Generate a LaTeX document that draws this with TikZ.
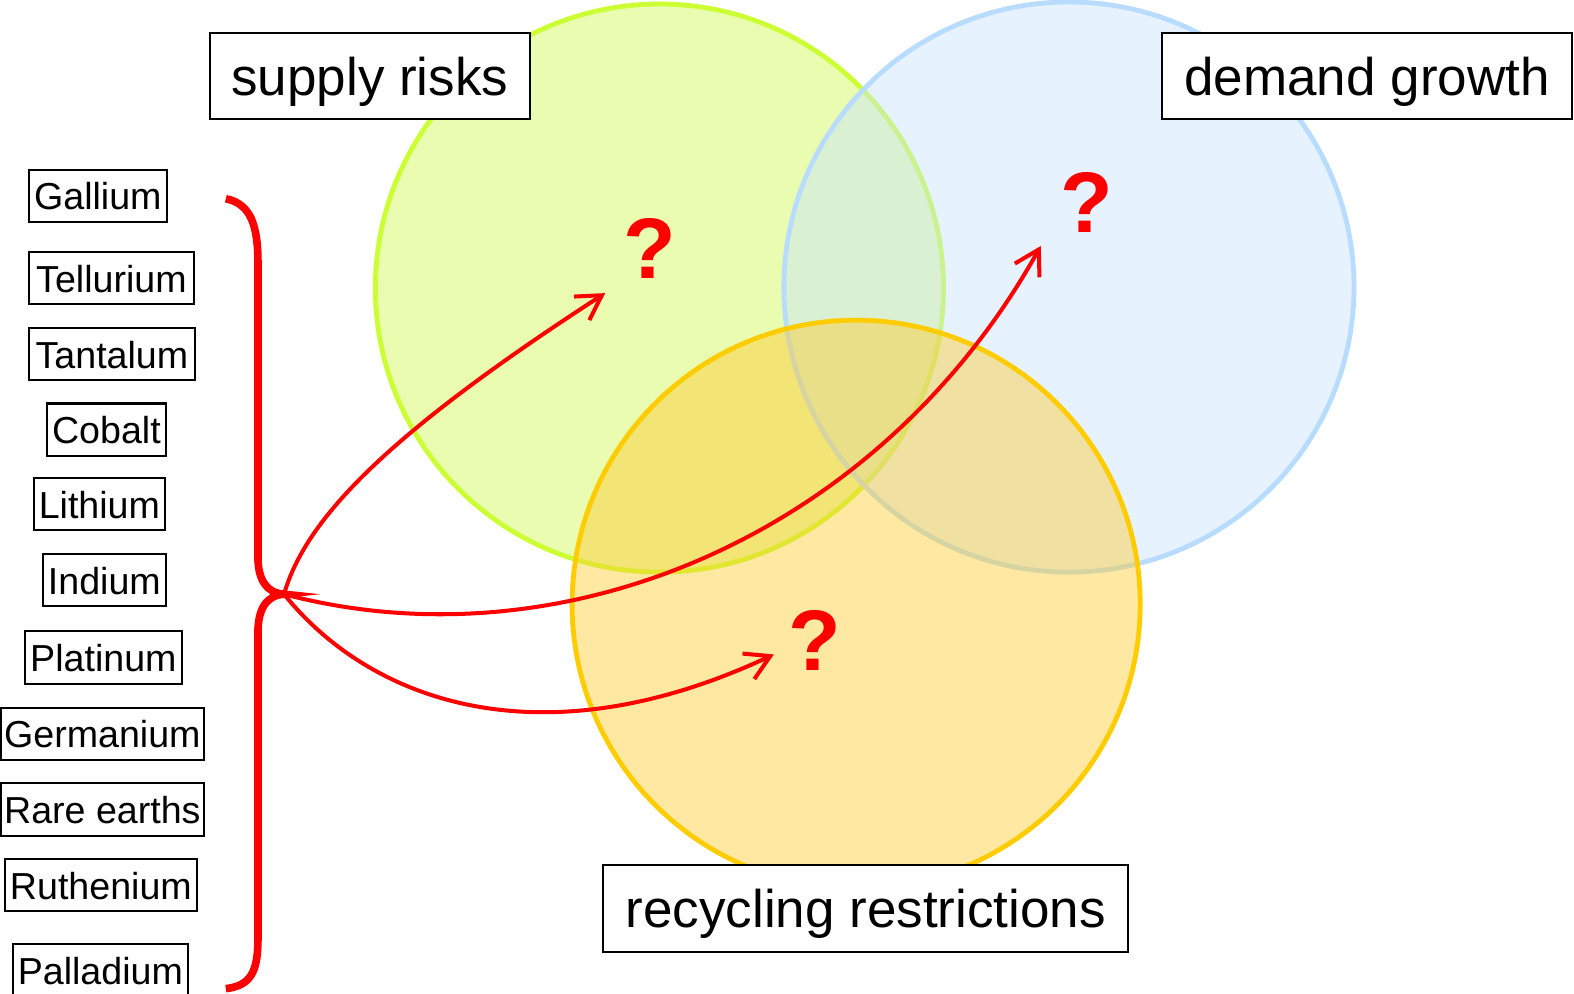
\documentclass[tikz,border=0pt]{standalone}
\usepackage{fontspec}
\setmainfont{Liberation Sans}
\usetikzlibrary{arrows.meta}
\definecolor{gstroke}{HTML}{CCFF33}
\definecolor{gfill}{HTML}{D0F84E}
\definecolor{bstroke}{HTML}{B8DCFF}
\definecolor{bfill}{HTML}{C8E3FD}
\definecolor{ostroke}{HTML}{FFCC00}
\definecolor{ofill}{HTML}{FCCB30}
\definecolor{braceRed}{HTML}{FF0000}
\begin{document}
\begin{tikzpicture}[x=0.5bp,y=-0.5bp,
  elbox/.style={draw=black, line width=1bp, inner sep=0pt, minimum height=26bp, text height=14bp, text depth=0bp, font=\fontsize{18.8}{20}\selectfont},
  bigbox/.style={draw=black, fill=white, line width=1bp, inner sep=0pt, minimum height=43bp, text height=25bp, text depth=5.5bp, font=\fontsize{26.5}{28}\selectfont},
  qmark/.style={text=braceRed, font=\fontsize{43}{43}\selectfont\bfseries, inner sep=0pt},
  conn/.style={draw=braceRed, line width=2bp, -{Straight Barb[length=12bp,width=14bp,line width=2bp]}},
  ring/.style={line width=2.4bp, fill opacity=0.45}
]
\useasboundingbox (0,0) rectangle (1568.2,990.3);
% circles
\draw[ring, draw=gstroke, fill=gfill] (657,287) circle [radius=141.5bp];
\draw[ring, draw=bstroke, fill=bfill] (1065,286) circle [radius=142bp];
\draw[ring, draw=ostroke, fill=ofill] (853,602) circle [radius=141.5bp];
% brace
\coordinate (hub) at (283,592);
\coordinate (btop) at (225,198);
\coordinate (bbot) at (225,985);
\draw[braceRed, line width=3.8bp]
  (btop) .. controls (250,203) and (257,225) .. (257,262) -- (257,555)
  .. controls (257,578) and (266,591) .. (hub)
  .. controls (266,593) and (257,606) .. (257,630) -- (257,935)
  .. controls (257,968) and (250,982) .. (bbot);
% targets
\coordinate (t1) at (603,292);
\coordinate (t2) at (1037,245);
\coordinate (t3) at (771,652);
\draw[conn] (hub) .. controls (305,515) and (390,430) .. (t1);
\draw[conn] (hub) .. controls (560,665) and (875,535) .. (t2);
\draw[conn] (hub) .. controls (370,700) and (540,760) .. (t3);
% question marks
\node[qmark] (q1) at (647,248) {?};
\node[qmark] (q2) at (1083,202) {?};
\node[qmark] (q3) at (812,638) {?};
% big labels
\node[bigbox, minimum width=159.5bp] (supply) at (368.5,76) {supply risks};
\node[bigbox, minimum width=204bp] (demand) at (1362,76) {demand growth};
\node[bigbox, minimum width=261.5bp] (recyc) at (862.5,905) {recycling restrictions};
% elements
\node[elbox, minimum width=68.5bp] (ga) at (97.5,195) {Gallium};
\node[elbox, minimum width=82bp] (te) at (111,277) {Tellurium};
\node[elbox, minimum width=82.5bp] (ta) at (111.5,353) {Tantalum};
\node[elbox, minimum width=59bp] (co) at (106,428) {Cobalt};
\node[elbox, minimum width=65bp] (li) at (99,502.5) {Lithium};
\node[elbox, minimum width=61bp] (in) at (104,578) {Indium};
\node[elbox, minimum width=78bp] (pt) at (103,655) {Platinum};
\node[elbox, minimum width=101bp] (ge) at (102,731) {Germanium};
\node[elbox, minimum width=101bp] (re) at (102,806.5) {Rare earths};
\node[elbox, minimum width=95.5bp] (ru) at (100.5,882) {Ruthenium};
\node[elbox, minimum width=87bp] (pd) at (100,966.5) {Palladium};
\end{tikzpicture}
\end{document}
